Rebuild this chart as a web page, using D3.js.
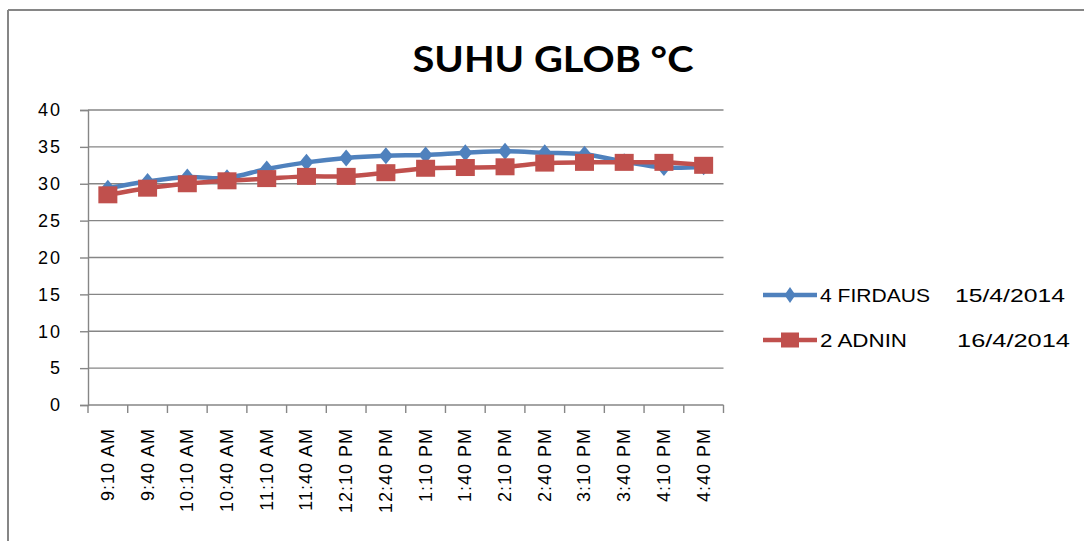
<!DOCTYPE html>
<html>
<head>
<meta charset="utf-8">
<script src="https://cdn.jsdelivr.net/npm/d3@7"></script>
<style>
html,body{margin:0;padding:0;background:#fff;}
svg{display:block;}
</style>
</head>
<body>
<svg id="chart" width="1084" height="541"></svg>
<script>
const title = "SUHU GLOB °C";
const categories = ["9:10 AM","9:40 AM","10:10 AM","10:40 AM","11:10 AM","11:40 AM","12:10 PM","12:40 PM","1:10 PM","1:40 PM","2:10 PM","2:40 PM","3:10 PM","3:40 PM","4:10 PM","4:40 PM"];
const firdaus = [29.4,30.3,30.9,30.8,32.0,32.9,33.5,33.8,33.9,34.2,34.4,34.2,34.0,33.0,32.2,32.3];
const adnin   = [28.5,29.4,30.0,30.4,30.7,31.0,31.0,31.5,32.1,32.2,32.3,32.8,32.9,32.9,32.9,32.5];
const seriesNames = ["4 FIRDAUS","2 ADNIN"];
const seriesDates = ["15/4/2014","16/4/2014"];
const yTicks = [0,5,10,15,20,25,30,35,40];

(function(){
const svg = d3.select("#chart");
const grid = "#868686";
const blue = "#4F81BD", red = "#C0504D";
const pL = 88, pR = 723.5, pT = 110, pB = 405;
const font = "'Liberation Sans', Arial, sans-serif";

// frame
svg.append("line").attr("x1",8).attr("x2",1084).attr("y1",10).attr("y2",10).attr("stroke",grid).attr("stroke-width",2);
svg.append("line").attr("x1",8).attr("x2",8).attr("y1",10).attr("y2",541).attr("stroke",grid).attr("stroke-width",2);

// title
svg.append("text").attr("x",553).attr("y",72).attr("text-anchor","middle")
  .attr("font-family","Lato, 'Open Sans', sans-serif").attr("font-weight","bold").attr("font-size",36)
  .attr("textLength",281).attr("lengthAdjust","spacingAndGlyphs").attr("fill","#000").text(title);

const x = d3.scaleBand().domain(categories).range([pL,pR]).padding(0);
const y = d3.scaleLinear().domain([0,40]).range([pB,pT]);

// gridlines
svg.append("g").selectAll("line").data(yTicks).join("line")
  .attr("x1",pL).attr("x2",pR).attr("y1",d=>y(d)).attr("y2",d=>y(d))
  .attr("stroke",grid).attr("stroke-width",1.4);

// y axis
const yAxis = svg.append("g").attr("transform",`translate(${pL},0)`)
  .call(d3.axisLeft(y).tickValues(yTicks).tickSize(8).tickPadding(18));
yAxis.select(".domain").attr("stroke",grid).attr("stroke-width",1.4);
yAxis.selectAll(".tick line").attr("stroke",grid).attr("stroke-width",1.4);
yAxis.selectAll(".tick text").attr("font-family",font)
  .attr("font-size",18).attr("letter-spacing","2px").attr("fill","#000");

// x axis
const xAxis = svg.append("g").attr("transform",`translate(0,${pB})`)
  .call(d3.axisBottom(x).tickSize(0).tickPadding(0));
xAxis.select(".domain").remove();
const bounds = d3.range(categories.length+1).map(i => pL + i*x.step());
svg.append("g").selectAll("line").data(bounds).join("line")
  .attr("x1",d=>d).attr("x2",d=>d).attr("y1",pB).attr("y2",pB+8)
  .attr("stroke",grid).attr("stroke-width",1.4);
xAxis.selectAll(".tick text")
  .attr("font-family",font).attr("font-size",18)
  .attr("letter-spacing","1px").attr("fill","#000")
  .attr("text-anchor","end").attr("dy",null).attr("y",0)
  .attr("transform","translate(6,23) rotate(-90)");

// lines
const line = d3.line().x((d,i)=>x(categories[i])+x.bandwidth()/2).y(d=>y(d)).curve(d3.curveCatmullRom.alpha(0.5));
const diamond = (cx,cy,w,h) => `M${cx},${cy-h/2}L${cx+w/2},${cy}L${cx},${cy+h/2}L${cx-w/2},${cy}Z`;

svg.append("path").datum(firdaus).attr("d",line).attr("fill","none").attr("stroke",blue).attr("stroke-width",4.5);
svg.append("g").selectAll("path").data(firdaus).join("path")
  .attr("d",(d,i)=>diamond(x(categories[i])+x.bandwidth()/2,y(d),14,17)).attr("fill",blue);

svg.append("path").datum(adnin).attr("d",line).attr("fill","none").attr("stroke",red).attr("stroke-width",4.5);
svg.append("g").selectAll("rect").data(adnin).join("rect")
  .attr("x",(d,i)=>x(categories[i])+x.bandwidth()/2-9.5).attr("y",d=>y(d)-8.5)
  .attr("width",19).attr("height",17).attr("fill",red);

// legend
const legY = [295,340];
const nameW = [110,87], dateX = [955,957], dateW = [110,113];
const lg = svg.append("g");
[0,1].forEach(i=>{
  const c = i===0?blue:red;
  lg.append("line").attr("x1",763).attr("x2",817).attr("y1",legY[i]).attr("y2",legY[i]).attr("stroke",c).attr("stroke-width",4.5);
  if(i===0) lg.append("path").attr("d",diamond(790,legY[i],11,16)).attr("fill",c);
  else lg.append("rect").attr("x",781).attr("y",legY[i]-7.5).attr("width",18).attr("height",15).attr("fill",c);
  lg.append("text").attr("x",820).attr("y",legY[i]+6.5).attr("font-family",font)
    .attr("font-size",18).attr("textLength",nameW[i]).attr("lengthAdjust","spacingAndGlyphs").attr("fill","#000").text(seriesNames[i]);
  lg.append("text").attr("x",dateX[i]).attr("y",legY[i]+6.5).attr("font-family",font)
    .attr("font-size",18).attr("textLength",dateW[i]).attr("lengthAdjust","spacingAndGlyphs").attr("fill","#000").text(seriesDates[i]);
});
})();
</script>
</body>
</html>
